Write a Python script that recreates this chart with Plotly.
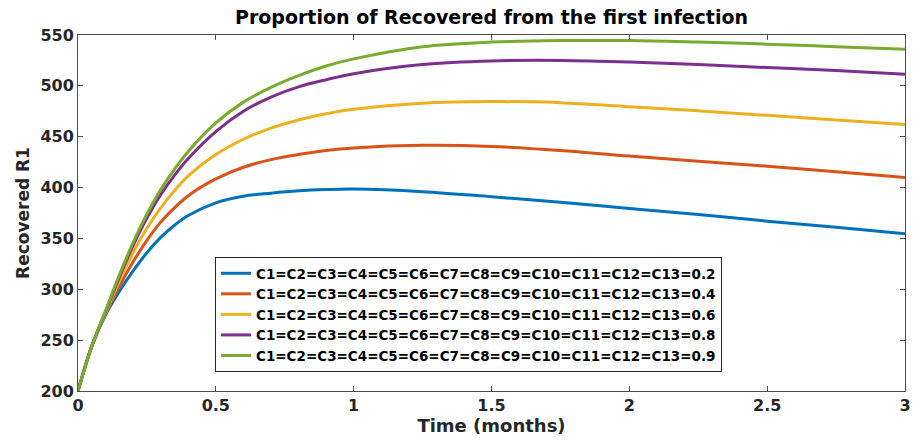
import plotly.graph_objects as go

# Time (months)
t = [0, 0.05, 0.1, 0.15, 0.2, 0.25, 0.3, 0.35, 0.4, 0.5, 0.6, 0.7, 0.8, 0.9, 1.0,
     1.25, 1.5, 1.75, 2.0, 2.25, 2.5, 2.75, 3.0]

r1_02 = [200, 244, 275, 298, 318, 336, 351, 363, 372.5, 385, 391.5, 394.5, 396.8, 398, 398.5,
         396, 391, 385.5, 379.5, 373.5, 367, 361, 354.5]
r1_04 = [200, 244, 276, 303, 327, 348, 366, 380, 392, 408.5, 420, 427.5, 432.5, 436.5, 439,
         441.5, 440.5, 436.5, 431, 426, 421, 415.5, 410]
r1_06 = [200, 244, 277, 308, 336, 360, 380, 397, 411.5, 432.5, 447.5, 458.5, 466.5, 472.5, 477,
         483, 484.5, 483.5, 479.5, 475.5, 471, 466.5, 462]
r1_08 = [200, 244, 278, 312, 343, 370, 393, 412, 428.5, 455, 475, 489, 499, 506, 512,
         521, 524.5, 525, 523.5, 521, 518, 515, 511.5]
r1_09 = [200, 244, 279, 314, 346, 374, 398, 418, 435.5, 463.5, 484, 498.5, 510, 519.5, 526.5,
         538.5, 543, 544.5, 544.5, 543, 541, 538.5, 536]

labels = [
    "C1=C2=C3=C4=C5=C6=C7=C8=C9=C10=C11=C12=C13=0.2",
    "C1=C2=C3=C4=C5=C6=C7=C8=C9=C10=C11=C12=C13=0.4",
    "C1=C2=C3=C4=C5=C6=C7=C8=C9=C10=C11=C12=C13=0.6",
    "C1=C2=C3=C4=C5=C6=C7=C8=C9=C10=C11=C12=C13=0.8",
    "C1=C2=C3=C4=C5=C6=C7=C8=C9=C10=C11=C12=C13=0.9",
]
series = [r1_02, r1_04, r1_06, r1_08, r1_09]
colors = ["#0072BD", "#D95319", "#EDB120", "#7E2F8E", "#77AC30"]

x_ticks = [0, 0.5, 1, 1.5, 2, 2.5, 3]
x_ticklabels = ["0", "0.5", "1", "1.5", "2", "2.5", "3"]
y_ticks = [200, 250, 300, 350, 400, 450, 500, 550]

FONT = "DejaVu Sans"

fig = go.Figure()
for y, name, c in zip(series, labels, colors):
    fig.add_trace(go.Scatter(
        x=t, y=y, mode="lines", name=f"<b>{name}</b>",
        line=dict(color=c, width=3, shape="spline", smoothing=1.0),
    ))

axis_common = dict(
    showline=True, mirror="ticks", linecolor="#4d4d4d", linewidth=1,
    ticks="inside", ticklen=5, tickcolor="#4d4d4d", tickwidth=1,
    showgrid=False, zeroline=False,
    tickfont=dict(family=FONT, size=16, color="#262626"),
)

fig.update_layout(
    width=917, height=448,
    margin=dict(l=78, r=6, t=35, b=57),
    paper_bgcolor="white", plot_bgcolor="white",
    font=dict(family=FONT, color="#262626"),
    title=dict(
        text="<b>Proportion of Recovered from the first infection</b>",
        x=0.5, xref="paper", xanchor="center",
        y=1 - 17 / 448, yref="container", yanchor="middle",
        font=dict(family=FONT, size=19, color="#000000"),
    ),
    xaxis=dict(
        range=[0, 3], tickvals=x_ticks, ticktext=[f"<b>{s}</b>" for s in x_ticklabels],
        title=dict(text="<b>Time (months)</b>", font=dict(family=FONT, size=18, color="#262626"),
                   standoff=4),
        **axis_common,
    ),
    yaxis=dict(
        range=[200, 550], tickvals=y_ticks, ticktext=[f"<b>{v}</b>" for v in y_ticks],
        title=dict(text="<b>Recovered R1</b>", font=dict(family=FONT, size=17, color="#262626"),
                   standoff=6),
        **axis_common,
    ),
    legend=dict(
        x=(216 - 78) / 833, xanchor="left",
        y=(391 - 257) / 356, yanchor="top",
        bgcolor="white", bordercolor="#262626", borderwidth=1,
        font=dict(family=FONT, size=13.5, color="#000000"),
        tracegroupgap=0,
    ),
    showlegend=True,
)

fig.write_html("out.html")
